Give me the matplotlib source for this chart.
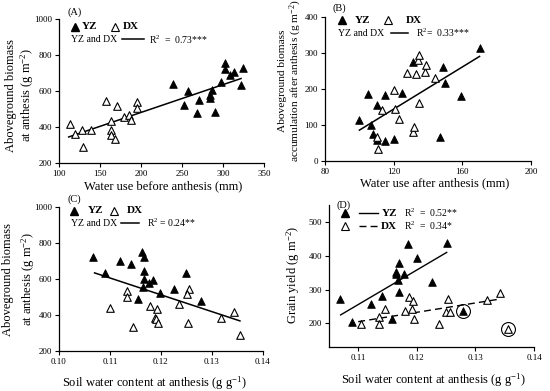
import numpy as np
import matplotlib
matplotlib.use("Agg")
import matplotlib.pyplot as plt

plt.rcParams['font.family'] = ['Liberation Serif', 'DejaVu Serif']
plt.rcParams['mathtext.fontset'] = 'custom'
plt.rcParams['mathtext.rm'] = 'Liberation Serif'
plt.rcParams['mathtext.it'] = 'Liberation Serif:italic'
plt.rcParams['mathtext.bf'] = 'Liberation Serif:bold'

# ---- data ----
# (A) water use before anthesis vs aboveground biomass at anthesis
a_yz_x = [239, 253, 257, 268, 271, 284, 284, 287, 290, 297, 303, 303, 308, 313, 324, 322]
a_yz_y = [641, 520, 598, 481, 548, 576, 561, 604, 485, 650, 756, 722, 687, 704, 728, 635]
a_dx_x = [113, 120, 128, 129, 139, 158, 171, 163, 163, 163, 168, 179, 186, 188, 195, 195]
a_dx_y = [418, 361, 383, 291, 383, 546, 517, 435, 385, 356, 335, 454, 465, 439, 539, 506]
a_fit_x = [112, 322]
a_fit_y = [345, 670]

# (B) water use after anthesis vs biomass accumulation after anthesis
b_yz_x = [100, 105, 107, 108, 110, 110, 115, 115, 120, 125, 131, 147, 149, 150, 159, 170]
b_yz_y = [113, 187, 101, 74, 155, 60, 184, 57, 62, 190, 275, 67, 261, 218, 181, 314]
b_dx_x = [110, 111, 113, 120, 121, 123, 128, 131, 132, 133, 134, 135, 135, 138, 139, 144]
b_dx_y = [67, 34, 141, 199, 146, 118, 246, 82, 96, 243, 282, 296, 162, 249, 268, 231]
b_fit_x = [100, 170]
b_fit_y = [86, 291]

# (C) soil water content vs aboveground biomass at anthesis
c_yz_x = [0.1067, 0.1090, 0.1120, 0.1141, 0.1163, 0.1167, 0.1167, 0.1167,
          0.1164, 0.1176, 0.1185, 0.1156, 0.1199, 0.1225, 0.1250, 0.1278]
c_yz_y = [726, 633, 702, 685, 753, 722, 648, 600, 559, 578, 596, 489, 522, 544, 637, 481]
c_dx_x = [0.1101, 0.1134, 0.1134, 0.1146, 0.1178, 0.1193, 0.1188, 0.1191,
          0.1194, 0.1255, 0.1251, 0.1235, 0.1254, 0.1318, 0.1343, 0.1356]
c_dx_y = [439, 537, 503, 333, 452, 433, 383, 378, 356, 544, 517, 463, 359, 383, 420, 291]
c_fit_x = [0.1070, 0.1355]
c_fit_y = [635, 368]

# (D) soil water content vs grain yield
d_yz_x = [0.1069, 0.1090, 0.1122, 0.1140, 0.1157, 0.1164, 0.1164, 0.1169,
          0.1168, 0.1169, 0.1178, 0.1185, 0.1201, 0.1226, 0.1251, 0.1279]
d_yz_y = [271, 205, 257, 282, 213, 353, 346, 378, 329, 294, 346, 435, 392, 321, 439, 237]
d_dx_x = [0.1105, 0.1136, 0.1135, 0.1146, 0.1180, 0.1187, 0.1193, 0.1191,
          0.1195, 0.1237, 0.1254, 0.1250, 0.1256, 0.1319, 0.1342, 0.1356]
d_dx_y = [197, 218, 198, 243, 237, 277, 267, 242, 212, 197, 271, 234, 234, 269, 289, 183]
d_yz_fit_x = [0.1070, 0.1251]
d_yz_fit_y = [225, 410]
d_dx_fit_x = [0.1100, 0.1342]
d_dx_fit_y = [205, 272]
# outliers circled in (D)
d_circ_x = [0.1279, 0.1356]
d_circ_y = [237, 183]

unit = 'g m$^{-2}$'
fs_tick = 6.5
fs_lab = 9
fs_leg = 7
fs_bold = 8


def style_axes(ax):
    for s in ['top', 'right']:
        ax.spines[s].set_visible(False)
    for s in ['left', 'bottom']:
        ax.spines[s].set_linewidth(0.9)
    ax.tick_params(direction='out', length=3, width=0.8, labelsize=fs_tick, pad=2)


def scatter_pair(ax, yx, yy, dx, dy):
    ax.scatter(yx, yy, marker='^', s=30, c='black', edgecolors='black', linewidths=0.6, zorder=3)
    ax.scatter(dx, dy, marker='^', s=30, facecolors='white', edgecolors='black', linewidths=0.8, zorder=3)


def top_legend(ax, y1, y2, xs, r2):
    # xs: yz marker, yz text, dx marker, dx text, 'YZ and DX' text, line start, line end, R2 text
    t = ax.transAxes
    ax.plot([xs[0]], [y1], marker='^', ms=5.5, color='black', transform=t, clip_on=False)
    ax.text(xs[1], y1, 'YZ', fontsize=fs_bold, fontweight='bold', va='center', transform=t)
    ax.plot([xs[2]], [y1], marker='^', ms=5.5, mfc='white', mec='black', mew=0.8,
            transform=t, clip_on=False)
    ax.text(xs[3], y1, 'DX', fontsize=fs_bold, fontweight='bold', va='center', transform=t)
    ax.text(xs[4], y2, 'YZ and DX', fontsize=fs_leg, va='center', transform=t)
    ax.plot([xs[5], xs[6]], [y2, y2], color='black', lw=1.1, transform=t, clip_on=False)
    ax.text(xs[7], y2, r2, fontsize=fs_leg, va='center', transform=t)


fig = plt.figure(figsize=(5.5, 3.91), dpi=100)

# ---------- (A) ----------
ax = fig.add_axes([0.107, 0.583, 0.373, 0.368])
style_axes(ax)
scatter_pair(ax, a_yz_x, a_yz_y, a_dx_x, a_dx_y)
ax.plot(a_fit_x, a_fit_y, color='black', lw=1.1, zorder=2)
ax.set_xlim(100, 350)
ax.set_ylim(200, 1000)
ax.set_xticks(np.arange(100, 351, 50))
ax.set_yticks(np.arange(200, 1001, 200))
ax.set_xlabel('Water use before anthesis (mm)', fontsize=fs_lab)
ax.set_ylabel('Aboveground biomass\nat anthesis (' + unit + ')', fontsize=fs_lab, linespacing=1.1)
ax.xaxis.set_label_coords(0.507, -0.12)
ax.yaxis.set_label_coords(-0.11, 0.47)
ax.text(0.04, 1.045, '(A)', fontsize=fs_leg + 0.5, transform=ax.transAxes, va='center')
top_legend(ax, 0.947, 0.859, [0.078, 0.11, 0.272, 0.31, 0.058, 0.31, 0.415, 0.44],
           'R$^2$  =  0.73***')

# ---------- (B) ----------
ax = fig.add_axes([0.591, 0.588, 0.3745, 0.368])
style_axes(ax)
scatter_pair(ax, b_yz_x, b_yz_y, b_dx_x, b_dx_y)
ax.plot(b_fit_x, b_fit_y, color='black', lw=1.1, zorder=2)
ax.set_xlim(80, 200)
ax.set_ylim(0, 400)
ax.set_xticks([80, 120, 160, 200])
ax.set_yticks(np.arange(0, 401, 100))
ax.set_xlabel('Water use after anthesis (mm)', fontsize=fs_lab)
ax.set_ylabel('Aboveground biomass\naccumulation after anthesis (' + unit + ')',
              fontsize=8.2, linespacing=1.15)
ax.xaxis.set_label_coords(0.534, -0.11)
ax.yaxis.set_label_coords(-0.1, 0.56)
ax.text(0.035, 1.065, '(B)', fontsize=fs_leg + 0.5, transform=ax.transAxes, va='center')
top_legend(ax, 0.979, 0.889, [0.08, 0.146, 0.306, 0.393, 0.063, 0.322, 0.405, 0.44],
           'R$^2$=  0.33***')

# ---------- (C) ----------
ax = fig.add_axes([0.107, 0.102, 0.371, 0.368])
style_axes(ax)
scatter_pair(ax, c_yz_x, c_yz_y, c_dx_x, c_dx_y)
ax.plot(c_fit_x, c_fit_y, color='black', lw=1.1, zorder=2)
ax.set_xlim(0.10, 0.14)
ax.set_ylim(200, 1000)
ax.set_xticks([0.10, 0.11, 0.12, 0.13, 0.14])
ax.set_xticklabels(['0.10', '0.11', '0.12', '0.13', '0.14'])
ax.set_yticks(np.arange(200, 1001, 200))
ax.set_xlabel('Soil water content at anthesis (g g$^{-1}$)', fontsize=fs_lab)
ax.set_ylabel('Aboveground biomass\nat anthesis (' + unit + ')', fontsize=fs_lab, linespacing=1.45)
ax.xaxis.set_label_coords(0.47, -0.16)
ax.yaxis.set_label_coords(-0.105, 0.5)
ax.text(0.04, 1.055, '(C)', fontsize=fs_leg + 0.5, transform=ax.transAxes, va='center')
top_legend(ax, 0.974, 0.889, [0.074, 0.142, 0.27, 0.333, 0.058, 0.305, 0.395, 0.431],
           'R$^2$ = 0.24**')

# ---------- (D) ----------
ax = fig.add_axes([0.598, 0.1125, 0.373, 0.363])
style_axes(ax)
scatter_pair(ax, d_yz_x, d_yz_y, d_dx_x, d_dx_y)
ax.plot(d_yz_fit_x, d_yz_fit_y, color='black', lw=1.0, zorder=2)
ax.plot(d_dx_fit_x, d_dx_fit_y, color='black', lw=1.0, ls=(0, (5, 3)), zorder=2)
ax.plot(d_circ_x, d_circ_y, ls='none', marker='o', ms=10, mfc='none', mec='black', mew=0.8)
ax.set_xlim(0.105, 0.14)
ax.set_ylim(130, 550)
ax.set_xticks([0.11, 0.12, 0.13, 0.14])
ax.set_xticklabels(['0.11', '0.12', '0.13', '0.14'])
ax.set_yticks([200, 300, 400, 500])
ax.set_xlabel('Soil water content at anthesis (g g$^{-1}$)', fontsize=fs_lab)
ax.set_ylabel('Grain yield (' + unit + ')', fontsize=fs_lab)
ax.xaxis.set_label_coords(0.51, -0.17)
ax.yaxis.set_label_coords(-0.13, 0.51)
ax.text(0.035, 1.0, '(D)', fontsize=fs_leg + 0.5, transform=ax.transAxes, va='center')
t = ax.transAxes
ax.plot([0.078], [0.944], marker='^', ms=5.5, color='black', transform=t, clip_on=False)
ax.plot([0.146, 0.239], [0.944, 0.944], color='black', lw=1.0, transform=t)
ax.text(0.26, 0.944, 'YZ', fontsize=fs_bold, fontweight='bold', va='center', transform=t)
ax.text(0.366, 0.944, 'R$^2$  =  0.52**', fontsize=fs_leg, va='center', transform=t)
ax.plot([0.078], [0.852], marker='^', ms=5.5, mfc='white', mec='black', mew=0.8,
        transform=t, clip_on=False)
ax.plot([0.146, 0.239], [0.852, 0.852], color='black', lw=1.0, ls=(0, (5, 3)), transform=t)
ax.text(0.255, 0.852, 'DX', fontsize=fs_bold, fontweight='bold', va='center', transform=t)
ax.text(0.366, 0.852, 'R$^2$  =  0.34*', fontsize=fs_leg, va='center', transform=t)

fig.savefig('out.png', dpi=100)
